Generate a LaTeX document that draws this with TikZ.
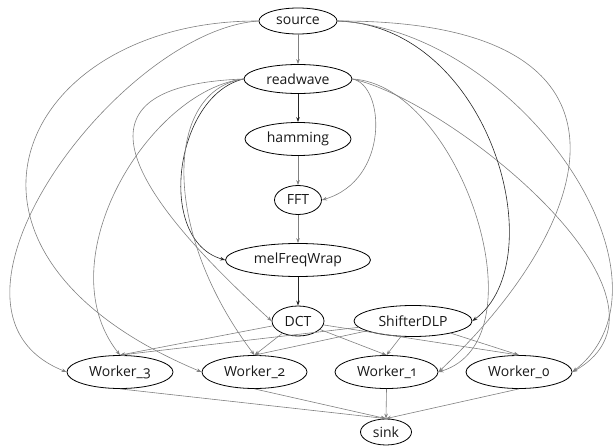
\documentclass[tikz,border=0pt]{standalone}
\usepackage{fontspec}
\setmainfont{Open Sans}[Numbers=OldStyle]
\usetikzlibrary{arrows.meta,shapes.geometric}
\begin{document}
\begin{tikzpicture}[x=1bp,y=-1bp,
  every node/.style={font=\fontsize{14bp}{16bp}\selectfont, text=black!90},
  task/.style={draw=black, line width=0.8bp, ellipse, inner sep=0pt},
  flow/.style={draw=black!50, line width=0.6bp, -{Stealth[length=5bp,width=3.6bp]}},
  heavy/.style={flow, draw=black!85}]
\useasboundingbox (0,0) rectangle (613,446);

% pipeline column
\node[task, minimum width=78bp,  minimum height=26bp] (source)      at (298,21)  {source};
\node[task, minimum width=108bp, minimum height=29bp] (readwave)    at (298,79)  {readwave};
\node[task, minimum width=106bp, minimum height=33bp] (hamming)     at (298,139) {hamming};
\node[task, minimum width=47bp,  minimum height=29bp] (FFT)         at (298,200) {FFT};
\node[task, minimum width=145bp, minimum height=33bp] (melFreqWrap) at (298,260) {melFreqWrap};
\node[task, minimum width=52bp,  minimum height=30bp] (DCT)         at (298,321) {DCT};
\node[task, minimum width=118bp, minimum height=31bp] (ShifterDLP)  at (413,321) {ShifterDLP};

% workers and sink
\node[task, minimum width=106bp, minimum height=33bp] (Worker3) at (120,372) {Worker\_3};
\node[task, minimum width=105bp, minimum height=33bp] (Worker2) at (254.5,372) {Worker\_2};
\node[task, minimum width=103bp, minimum height=33bp] (Worker1) at (386.5,372) {Worker\_1};
\node[task, minimum width=106bp, minimum height=33bp] (Worker0) at (519,372) {Worker\_0};
\node[task, minimum width=51bp,  minimum height=26bp] (sink)    at (386,432) {sink};

% straight chain
\draw[flow]  (source) -- (readwave);
\draw[heavy] (readwave) -- (hamming);
\draw[flow]  (hamming) -- (FFT);
\draw[flow]  (FFT) -- (melFreqWrap);
\draw[heavy] (melFreqWrap) -- (DCT);

% readwave fan-out
\draw[flow]  (readwave.east) .. controls (385,85) and (390,180) .. (FFT.east);
\draw[heavy] (readwave.west) .. controls (175,95) and (155,240) .. (melFreqWrap.west);
\draw[flow]  (readwave.west) .. controls (85,85) and (100,165) .. (DCT.west);
\draw[flow]  (readwave.west) .. controls (165,90) and (160,230) .. (Worker2.north);
\draw[flow]  (readwave.west) .. controls (150,90) and (45,260) .. (Worker3.north);
\draw[flow]  (readwave.east) .. controls (460,85) and (545,340) .. (Worker1.east);
\draw[flow]  (readwave.east) .. controls (450,100) and (700,300) .. (Worker0.east);

% source fan-out
\draw[flow]  (source.west) .. controls (120,30) and (-90,310) .. (Worker3.west);
\draw[flow]  (source.west) .. controls (20,20) and (-90,250) .. (Worker2.west);
\draw[heavy] (source.east) .. controls (490,25) and (555,260) .. (ShifterDLP.east);
\draw[flow]  (source.east) .. controls (660,20) and (600,220) .. (Worker1.east);
\draw[flow]  (source.east) .. controls (520,30) and (690,280) .. (Worker0.east);

% DCT and ShifterDLP to every worker
\foreach \w in {Worker3,Worker2,Worker1,Worker0} {
  \draw[flow] (DCT) -- (\w.north);
  \draw[flow] (ShifterDLP) -- (\w.north);
}

% workers into sink
\foreach \w in {Worker3,Worker2,Worker1,Worker0} {
  \draw[flow] (\w.south) -- (sink.north);
}
\end{tikzpicture}
\end{document}
